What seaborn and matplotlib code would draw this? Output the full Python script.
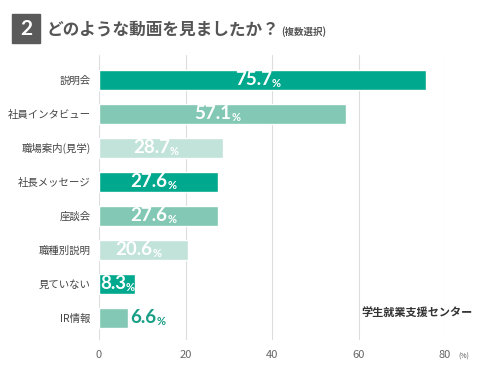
import seaborn as sns
import pandas as pd
import matplotlib.pyplot as plt
from matplotlib.patches import Rectangle
from matplotlib.transforms import offset_copy

# Datos del gráfico
categorias = ["説明会", "社員インタビュー", "職場案内(見学)", "社長メッセージ",
              "座談会", "職種別説明", "見ていない", "IR情報"]
valores = [75.7, 57.1, 28.7, 27.6, 27.6, 20.6, 8.3, 6.6]
ticks_x = [0, 20, 40, 60, 80]

oscuro, medio, claro = "#00A88E", "#82C8B4", "#C2E3D9"
colores = [oscuro, medio, claro, oscuro, medio, claro, oscuro, medio]

df = pd.DataFrame({"categoria": categorias, "valor": valores})

sns.set_style("white")
plt.rcParams['font.family'] = ['Noto Sans CJK JP', 'DejaVu Sans']
num_font = ['Lato', 'Noto Sans CJK JP']

fig = plt.figure(figsize=(4.82, 3.8), dpi=100)
ax = fig.add_axes([99 / 482, 1 - 340 / 380, 346 / 482, 285 / 380])

sns.barplot(data=df, x="valor", y="categoria", hue="categoria",
            palette=colores, legend=False, width=0.6, saturation=1, ax=ax)

ax.set_xlim(0, 80)
ax.set_ylim(7.65, -0.73)
ax.set_xticks(ticks_x)
ax.set_xticklabels([str(t) for t in ticks_x], fontsize=8, color="#666666")
ax.grid(axis="x", color="#dddddd", linewidth=0.8)
ax.set_axisbelow(True)
for s in ax.spines.values():
    s.set_visible(False)
ax.tick_params(axis="both", length=0)
ax.tick_params(axis="x", pad=7)
ax.tick_params(axis="y", pad=6, labelsize=7.5, labelcolor="#444444")
ax.set_xlabel("")
ax.set_ylabel("")

fig.canvas.draw()
renderer = fig.canvas.get_renderer()

# Etiquetas de valor
for i, v in enumerate(valores):
    if v < 8:
        col = "#1A9E86"
        tr_num = offset_copy(ax.transData, fig=fig, x=3, units='dots')
        t = ax.text(v, i, f"{v:.1f}", transform=tr_num, ha='left', va='center',
                    family=num_font, fontsize=13.5, fontweight='bold', color=col)
        bb = t.get_window_extent(renderer=renderer)
        ax.text(bb.x1, ax.transData.transform((0, i))[1] - 4,
                "%", transform=None, ha='left', va='center',
                family=num_font, fontsize=8, fontweight='bold', color=col)
        continue
    x = v / 2
    tr = offset_copy(ax.transData, fig=fig, x=9, units='dots')
    tr_p = offset_copy(ax.transData, fig=fig, x=9, y=-4, units='dots')
    ax.text(x, i, f"{v:.1f}", transform=tr, ha='right', va='center',
            family=num_font, fontsize=13.5, fontweight='bold', color="white")
    ax.text(x, i, "%", transform=tr_p, ha='left', va='center',
            family=num_font, fontsize=8, fontweight='bold', color="white")

# Título
fig.patches.append(Rectangle((12 / 482, 1 - 43 / 380), 28 / 482, 29 / 380,
                             transform=fig.transFigure, color="#5a5a5a"))
fig.text(26 / 482, 1 - 29 / 380, "2", ha='center', va='center', color='white',
         family=num_font, fontsize=15, fontweight='bold')
titulo = fig.text(47 / 482, 1 - 29 / 380, "どのような動画を見ましたか？", ha='left',
                  va='center', color="#555555", fontsize=12, fontweight='bold')
tb = titulo.get_window_extent(renderer=renderer)
fig.text(tb.x1 + 1, 380 - 32, "(複数選択)", transform=None, ha='left', va='center',
         color="#555555", fontsize=6.8, fontweight='bold')

# Unidad y marca
fig.text(458 / 482, 1 - 357 / 380, "(%)", ha='left', va='center',
         color="#555555", fontsize=5)
fig.text(473 / 482, 1 - 312 / 380, "学生就業支援センター", ha='right', va='center',
         color="#333333", fontsize=8, fontweight='bold')

plt.savefig("out.png", dpi=100)
